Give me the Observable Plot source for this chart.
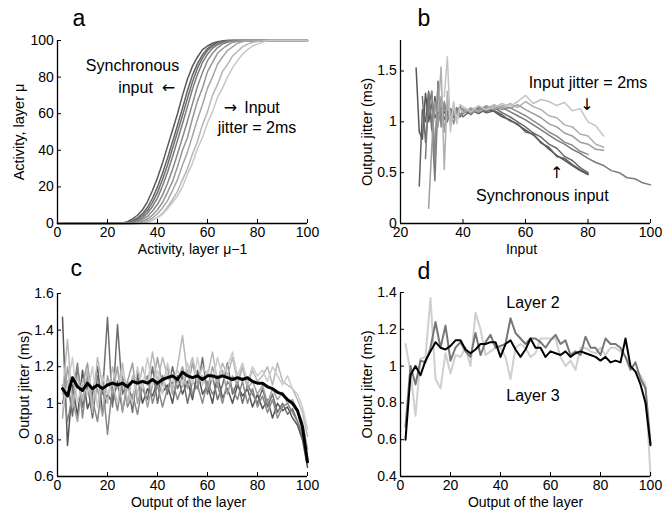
<!DOCTYPE html>
<html><head><meta charset="utf-8">
<script src="https://cdn.jsdelivr.net/npm/d3@7"></script>
<script src="https://cdn.jsdelivr.net/npm/@observablehq/plot@0.6"></script>
<style>
body{margin:0;background:#fff;}
#root{position:relative;width:669px;height:516px;overflow:hidden;}
.panel{position:absolute;}
</style></head><body><div id="root"></div>
<script>
// ---------- Panel a ----------
const xA = [0,20,22,24,26,28,30,32,34,36,38,40,42,44,46,48,50,52,54,56,58,60,62,64,66,68,70,72,74,76,78,80,82,84,86,88,90,100];
const a1 = [0,0,0,0,0.3,1,2.5,4.5,7.5,12,18,25,33,42,51,60,70,79,86,91,95,97,98.5,99.3,99.8,100,100,100,100,100,100,100,100,100,100,100,100,100];
const a2 = [0,0,0,0,0.1,0.5,1.5,3,5.4,8.9,13.8,20,27.4,35.7,44.7,53.7,63,72.7,81.1,87.5,92.2,95.6,97.5,98.9,99.6,100,100,100,100,100,100,100,100,100,100,100,100,100];
const a3 = [0,0,0,0,0,0.3,1,2.3,4.3,7.2,11.5,17,24,32,41,50,59,68.5,77.5,85,90.5,94.5,97,98.5,99.3,99.8,100,100,100,100,100,100,100,100,100,100,100,100];
const a4 = [0,0,0,0,0,0.1,0.6,1.6,3.2,5.7,9.3,14,20.5,28,36.5,45.5,54.5,64,73.5,81.5,88,92.5,95.8,97.6,98.8,99.5,100,100,100,100,100,100,100,100,100,100,100,100];
const a5 = [0,0,0,0,0,0,0.2,0.9,2.2,4,6.8,10.5,15.5,22,29.5,38,47,56,65.5,75,82.5,89,93,96,98,99,99.6,100,100,100,100,100,100,100,100,100,100,100];
const a6 = [0,0,0,0,0,0,0,0.4,1.2,2.6,4.6,7.5,11.5,17,23,31,40,47,57.5,67,74,83,88,93,95.5,97.5,99,99.5,100,100,100,100,100,100,100,100,100,100];
const a7 = [0,0,0,0,0,0,0,0.2,0.6,1.6,3,5.3,8.5,12.5,18,24,32,39,48,57,65,74,80,87,91,94.5,96.5,98.5,99.3,100,100,100,100,100,100,100,100,100];
const a8 = [0,0,0,0,0,0,0,0,0.3,0.8,1.8,3.4,5.5,9,13,17.5,24,30,38,45,54,61,70,76,83,87,91.5,94,96.5,98,99,99.5,100,100,100,100,100,100];
const a9 = [0,0,0,0,0,0,0,0,0.3,0.8,1.7,3.2,5,8,11.5,15,20,27,33,41,47,55,61,69,74,80,85,89,92.5,95,97,98,99,100,100,100,100,100];
const seriesA = [a1,a2,a3,a4,a5,a6,a7,a8,a9];
const colorsA = ["#575757","#636363","#6f6f6f","#7b7b7b","#888888","#969696","#a5a5a5","#b5b5b5","#c8c8c8"];
const ticksAx = [0,20,40,60,80,100];
const ticksAy = [0,20,40,60,80,100];
const notesA = [
  {x: 30, y: 86.3, t: "Synchronous"},
  {x: 31.2, y: 74.3, t: "input"},
  {x: 81.8, y: 63.4, t: "Input"},
  {x: 79.8, y: 52.5, t: "jitter = 2ms"}
];
const arrowsA = [
  {x: 44.4, y: 74.3, t: "\u2190"},
  {x: 69.2, y: 63.4, t: "\u2192"}
];

// ---------- Panel b ----------
const xB = [25,26,27,28,29,30,31,32,33,34,35,36,37,38,39,40,42.5,45,47.5,50,52.5,55,57.5,60,62.5,65,67.5,70,72.5,75,77.5,80,82.5,85,87.5,90,92.5,95,97.5,100];
const _ = null;
const b1 = [1.53,0.9,0.83,1.28,1.0,1.18,1.04,1.12,1.0,1.1,1.06,1.13,1.08,1.1,1.05,1.1,
            1.12,1.08,1.13,1.1,1.05,1.02,0.97,0.92,0.87,0.8,0.73,0.67,0.62,0.57,0.52,0.48, _,_,_,_,_,_,_,_];
const b2 = [_,0.37,1.12,1.0,1.3,0.92,1.25,0.98,1.15,1.02,1.12,1.06,1.1,1.13,1.08,1.05,
            1.11,1.12,1.09,1.11,1.07,1.01,0.98,0.9,0.88,0.79,0.75,0.66,0.64,0.58,0.53,0.49, _,_,_,_,_,_,_,_];
const b3 = [_,_,1.25,0.8,1.15,1.3,0.6,1.4,1.0,1.15,1.08,1.12,1.04,1.1,1.15,1.12,
            1.07,1.14,1.1,1.14,1.09,1.05,1.0,0.95,0.89,0.85,0.78,0.74,0.66,0.62,0.55,0.5, _,_,_,_,_,_,_,_];
const b4 = [_,_,_,0.64,1.28,1.0,0.42,1.2,1.05,1.18,1.0,1.12,1.08,1.14,1.05,1.08,
            1.13,1.1,1.15,1.12,1.14,1.1,1.06,1.02,0.97,0.92,0.87,0.82,0.78,0.73,0.69,0.64, 0.6,0.57,0.52,0.5,0.45,0.44,0.4,0.38];
const b5 = [_,_,_,_,_,1.3,0.62,1.38,0.95,1.2,1.02,1.1,0.98,1.12,1.06,1.1,
            1.12,1.15,1.11,1.15,1.12,1.14,1.1,1.06,1.01,0.96,0.9,0.86,0.8,0.77,0.71,0.68, _,_,_,_,_,_,_,_];
const b6 = [_,_,_,_,0.15,0.75,1.2,0.95,1.25,0.9,1.18,1.0,1.15,1.08,1.12,1.13,
            1.09,1.12,1.16,1.12,1.16,1.13,1.17,1.12,1.08,1.04,0.98,0.95,0.89,0.86,0.8,0.78,0.73,0.72, _,_,_,_,_,_];
const b7 = [_,_,_,_,_,_,_,1.1,1.54,0.53,1.3,0.95,1.18,1.0,1.13,1.09,
            1.14,1.1,1.13,1.17,1.13,1.18,1.14,1.2,1.15,1.12,1.06,1.04,0.97,0.95,0.88,0.86,0.78,0.75, _,_,_,_,_,_];
const b8 = [_,_,_,_,_,_,_,_,_,1.25,1.64,0.9,1.2,0.98,1.17,1.15,
            1.1,1.16,1.12,1.14,1.18,1.15,1.2,1.26,1.18,1.22,1.2,1.16,1.19,1.11,1.13,1.0,0.96,0.86, _,_,_,_,_,_];
const seriesB = [b1,b2,b3,b4,b5,b6,b7,b8];
const colorsB = ["#555555","#606060","#6c6c6c","#7a7a7a","#8a8a8a","#9c9c9c","#afafaf","#c4c4c4"];
const ticksBx = [20,40,60,80,100];
const ticksBy = [0,0.5,1,1.5];
const notesB = [
  {x: 80, y: 1.38, t: "Input jitter = 2ms"},
  {x: 65.4, y: 0.276, t: "Synchronous input"}
];
const arrowsB = [
  {x: 79.7, y: 1.165, t: "\u2193"},
  {x: 70, y: 0.5, t: "\u2191"}
];

// ---------- Panel c ----------
const xC = [2,4,6,8,10,12,14,16,18,20,22,24,26,28,30,32,34,36,38,40,42,44,46,48,50,52,54,56,58,60,62,64,66,68,70,72,74,76,78,80,82,84,86,88,90,92,94,96,98,100];
const c1 = [1.47,0.77,1.1,0.93,1.18,0.97,1.05,1.2,0.95,1.05, 1.0,1.12,0.96,1.1,1.02,1.15,1.0,1.08,1.04,1.12,
            1.06,1.1,1.0,1.15,1.05,1.12,1.02,1.18,1.05,1.1, 1.0,1.15,1.03,1.08,1.0,1.1,1.04,1.08,0.98,1.05,
            0.97,1.02,0.92,1.0,0.96,0.98,0.92,0.88,0.8,0.65];
const c2 = [1.0,1.12,0.93,1.2,0.98,1.1,0.92,1.15,1.05,1.47, 0.98,1.43,1.05,1.12,0.95,1.18,1.08,1.02,1.2,1.0,
            1.15,1.05,1.2,1.08,1.15,1.0,1.12,1.08,1.25,1.05, 1.15,1.02,1.1,1.22,1.05,1.12,1.0,1.1,1.05,1.0,
            1.08,0.98,1.05,0.95,1.0,0.94,0.97,0.9,0.82,0.66];
const c3 = [1.1,0.9,1.05,1.22,0.92,1.15,1.02,0.9,1.12,0.83, 1.1,0.96,1.15,0.98,1.05,0.94,1.1,1.15,1.0,1.1,
            0.98,1.08,1.12,1.02,1.1,1.18,1.05,1.1,1.0,1.12, 1.05,1.1,1.0,1.12,1.08,1.02,1.12,1.0,1.08,0.98,
            1.04,0.95,1.02,0.92,0.98,1.0,0.95,0.9,0.84,0.7];
const c4 = [0.92,1.2,1.02,0.9,1.1,1.22,1.0,1.08,0.93,1.15, 1.05,1.2,0.95,1.12,1.22,1.0,1.12,0.98,1.1,1.25,
            1.1,1.2,1.05,1.12,1.2,1.08,1.22,1.1,1.15,1.08, 1.2,1.1,1.18,1.05,1.15,1.1,1.2,1.08,1.12,1.05,
            1.1,1.0,1.08,1.02,1.06,1.0,1.02,0.96,0.9,0.75];
const c5 = [1.05,1.35,0.98,1.15,1.02,1.18,0.95,1.25,1.1,1.0, 1.2,1.08,1.22,1.0,1.15,1.05,1.2,1.1,1.28,1.12,
            1.25,1.15,1.08,1.2,1.37,1.15,1.25,1.12,1.2,1.15, 1.28,1.12,1.22,1.15,1.25,1.12,1.2,1.1,1.18,1.12,
            1.15,1.2,1.1,1.22,1.12,1.1,1.08,1.02,0.95,0.82];
const c6 = [0.97,1.1,1.25,1.0,1.12,1.05,1.2,0.98,1.15,1.05, 1.12,1.0,1.18,1.08,1.0,1.2,1.08,1.25,1.1,1.18,
            1.05,1.22,1.12,1.18,1.1,1.22,1.1,1.25,1.1,1.18, 1.12,1.25,1.15,1.2,1.28,1.15,1.22,1.12,1.2,1.15,
            1.18,1.12,1.2,1.15,1.1,1.15,1.08,1.05,0.98,0.86];
const cMean = [1.08,1.04,1.14,1.09,1.07,1.11,1.08,1.1,1.08,1.1, 1.11,1.1,1.11,1.09,1.12,1.11,1.12,1.11,1.13,1.11,
               1.13,1.14,1.15,1.13,1.17,1.15,1.14,1.15,1.13,1.15, 1.15,1.14,1.15,1.14,1.13,1.14,1.13,1.14,1.12,1.11,
               1.11,1.09,1.08,1.06,1.05,1.02,1.0,0.96,0.87,0.68];
const seriesC = [c1,c2,c3,c4,c5,c6];
const colorsC = ["#555555","#6e6e6e","#888888","#a0a0a0","#b8b8b8","#cccccc"];
const ticksCx = [0,20,40,60,80,100];
const ticksCy = [0.6,0.8,1,1.2,1.4,1.6];

// ---------- Panel d ----------
const xD = xC;
const dLight = [1.12,0.97,0.73,1.04,1.05,1.37,0.93,0.88,1.07,0.96, 1.06,1.05,1.1,1.0,1.29,1.2,1.06,1.08,1.1,1.1,
                1.05,0.93,1.1,1.12,1.1,1.05,1.07,1.15,1.15,1.15, 1.15,1.05,1.0,1.03,0.98,1.1,1.1,1.08,1.07,1.1,
                1.06,1.1,1.1,1.08,1.05,1.0,0.97,0.95,0.9,0.4];
const dGray = [0.67,1.0,0.9,1.03,1.02,1.1,1.24,1.1,1.22,1.03, 1.1,1.13,1.08,1.05,1.18,1.06,1.13,1.17,1.1,1.11,
               1.12,1.26,1.18,1.15,1.12,1.15,1.15,1.13,1.1,1.14, 1.17,1.12,1.14,1.06,1.08,1.06,1.16,1.1,1.1,1.06,
               1.15,1.12,1.12,1.1,1.05,0.98,1.02,0.93,0.88,0.58];
const dBlack = [0.6,0.95,1.0,0.95,1.03,1.08,1.13,1.1,1.09,1.11, 1.14,1.14,1.09,1.07,1.09,1.12,1.12,1.13,1.13,1.05,
                1.12,1.14,1.09,1.05,1.09,1.15,1.1,1.1,1.05,1.08, 1.07,1.06,1.08,1.05,1.07,1.08,1.07,1.06,1.05,1.03,
                1.05,1.02,1.03,1.02,1.15,1.0,0.97,0.9,0.8,0.57];
const seriesD = [dLight, dGray, dBlack];
const colorsD = ["#cfcfcf","#777777","#000000"];
const ticksDx = [0,20,40,60,80,100];
const ticksDy = [0.4,0.6,0.8,1,1.2,1.4];
const notesD = [
  {x: 53, y: 1.344, t: "Layer 2"},
  {x: 53, y: 0.84, t: "Layer 3"}
];

// ---------- rendering ----------
const FONT = '"Liberation Sans", Arial, Helvetica, sans-serif';
const rowsOf = (xs, ys) => ys.map((y, i) => ({x: xs[i], y})).filter(d => d.y != null);

function panel(cfg) {
  const {left, top, width, height, ml, mr, mt, mb, xDomain, yDomain, xTicks, yTicks,
         lines, notes, arrows, letter, letterDx, letterDy, xLabel, xLabelDx, xLabelDy, yLabel, yLabelDx} = cfg;
  const marks = [];
  lines.forEach(l => marks.push(Plot.line(rowsOf(l.xs, l.ys), {x: "x", y: "y", stroke: l.color, strokeWidth: l.width, curve: "linear"})));
  marks.push(Plot.ruleX([xDomain[0]], {stroke: "#000", strokeWidth: 1.3}));
  marks.push(Plot.ruleY([yDomain[0]], {stroke: "#000", strokeWidth: 1.3}));
  marks.push(Plot.axisX(xTicks, {tickSize: -4, tickPadding: 8, tickFormat: d => String(d), label: null, fontSize: 14, stroke: "#000"}));
  marks.push(Plot.axisY(yTicks, {tickSize: -4, tickPadding: 7.7, tickFormat: d => String(d), label: null, fontSize: 14, stroke: "#000"}));
  if (notes) marks.push(Plot.text(notes, {x: "x", y: "y", text: "t", fontSize: 16, textAnchor: "middle", lineAnchor: "middle", fill: "#000"}));
  if (arrows) marks.push(Plot.text(arrows, {x: "x", y: "y", text: "t", fontSize: 16, fontFamily: "DejaVu Sans", textAnchor: "middle", lineAnchor: "middle", fill: "#000"}));
  marks.push(Plot.text([letter], {text: d => d, frameAnchor: "top-left", textAnchor: "start", lineAnchor: "bottom", dx: letterDx, dy: letterDy, fontSize: 23, fill: "#000"}));
  marks.push(Plot.text([xLabel], {text: d => d, frameAnchor: "bottom", textAnchor: "middle", lineAnchor: "bottom", dx: xLabelDx, dy: xLabelDy, fontSize: 14, fill: "#000"}));
  marks.push(Plot.text([yLabel], {text: d => d, frameAnchor: "left", textAnchor: "middle", lineAnchor: "middle", rotate: -90, dx: yLabelDx, fontSize: 14.5, fill: "#000"}));
  const svg = Plot.plot({
    width, height, marginLeft: ml, marginRight: mr, marginTop: mt, marginBottom: mb,
    x: {domain: xDomain}, y: {domain: yDomain},
    style: {fontFamily: FONT, background: "transparent", color: "#000", overflow: "visible"},
    marks
  });
  const div = document.createElement("div");
  div.className = "panel";
  div.style.left = left + "px"; div.style.top = top + "px";
  div.appendChild(svg);
  document.getElementById("root").appendChild(div);
}

panel({left: 0, top: 0, width: 330, height: 255, ml: 57, mr: 23, mt: 40, mb: 32,
  xDomain: [0, 100], yDomain: [0, 100], xTicks: ticksAx, yTicks: ticksAy,
  lines: seriesA.map((ys, k) => ({xs: xA, ys, color: colorsA[k], width: 1.5})),
  notes: notesA, arrows: arrowsA, letter: "a", letterDx: 15, letterDy: -15,
  xLabel: "Activity, layer \u03bc\u22121", xLabelDx: 10, xLabelDy: 30,
  yLabel: "Activity, layer \u03bc", yLabelDx: -38});

panel({left: 330, top: 0, width: 339, height: 255, ml: 70, mr: 19, mt: 40, mb: 32,
  xDomain: [20, 100], yDomain: [0, 1.8], xTicks: ticksBx, yTicks: ticksBy,
  lines: seriesB.map((ys, k) => ({xs: xB, ys, color: colorsB[k], width: 1.5})),
  notes: notesB, arrows: arrowsB, letter: "b", letterDx: 17, letterDy: -15,
  xLabel: "Input", xLabelDx: -4, xLabelDy: 30,
  yLabel: "Output jitter (ms)", yLabelDx: -33});

panel({left: 0, top: 255, width: 330, height: 261, ml: 57, mr: 23, mt: 38, mb: 40,
  xDomain: [0, 100], yDomain: [0.6, 1.6], xTicks: ticksCx, yTicks: ticksCy,
  lines: seriesC.map((ys, k) => ({xs: xC, ys, color: colorsC[k], width: 1.5})).concat([{xs: xC, ys: cMean, color: "#000", width: 3}]),
  notes: null, arrows: null, letter: "c", letterDx: 13, letterDy: -18,
  xLabel: "Output of the layer", xLabelDx: 6, xLabelDy: 30,
  yLabel: "Output jitter (ms)", yLabelDx: -33});

panel({left: 330, top: 255, width: 339, height: 261, ml: 70, mr: 19, mt: 37, mb: 40,
  xDomain: [0, 100], yDomain: [0.4, 1.4], xTicks: ticksDx, yTicks: ticksDy,
  lines: seriesD.map((ys, k) => ({xs: xD, ys, color: colorsD[k], width: 2})),
  notes: notesD, arrows: null, letter: "d", letterDx: 17, letterDy: -14,
  xLabel: "Output of the layer", xLabelDx: 0, xLabelDy: 30,
  yLabel: "Output jitter (ms)", yLabelDx: -33});
</script>
</body></html>
